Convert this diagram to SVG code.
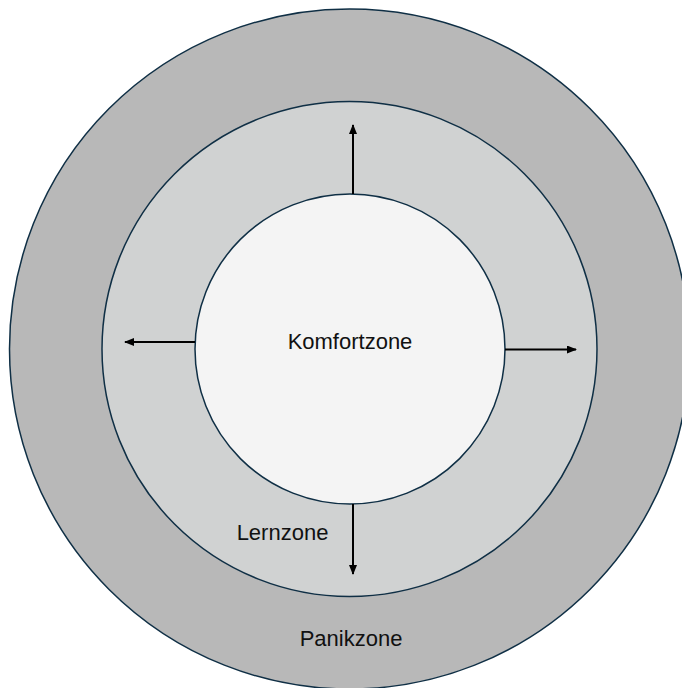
<svg xmlns="http://www.w3.org/2000/svg" width="682" height="688" viewBox="0 0 682 688">
<style>
.zone{stroke:#0f2f45;stroke-width:1.5}
.lbl{font-family:"Liberation Sans",Arial,sans-serif;font-size:22px;fill:#111;text-anchor:middle}
.arr{stroke:#000;stroke-width:2;fill:none;marker-end:url(#ah)}
</style>
<defs>
<marker id="ah" markerWidth="10" markerHeight="8" refX="9" refY="4" orient="auto" markerUnits="userSpaceOnUse">
<path d="M0,0 L10,4 L0,8 Z" fill="#000"/>
</marker>
</defs>
<rect width="682" height="688" fill="#fff"/>
<g id="panikzone">
<circle class="zone" cx="349.5" cy="349" r="340" fill="#b8b8b8"/>
<text class="lbl" x="351" y="646">Panikzone</text>
</g>
<g id="lernzone">
<circle class="zone" cx="349.5" cy="349" r="247.5" fill="#d0d2d2"/>
<text class="lbl" x="282.5" y="540">Lernzone</text>
</g>
<g id="komfortzone">
<circle class="zone" cx="350" cy="349" r="155" fill="#f4f4f4"/>
<text class="lbl" x="350" y="349">Komfortzone</text>
</g>
<g id="connectors">
<line class="arr" x1="353" y1="194" x2="353" y2="125"/>
<line class="arr" x1="353" y1="504" x2="353" y2="574"/>
<line class="arr" x1="195" y1="342" x2="125" y2="342"/>
<line class="arr" x1="505" y1="349.5" x2="576" y2="349.5"/>
</g>
</svg>
